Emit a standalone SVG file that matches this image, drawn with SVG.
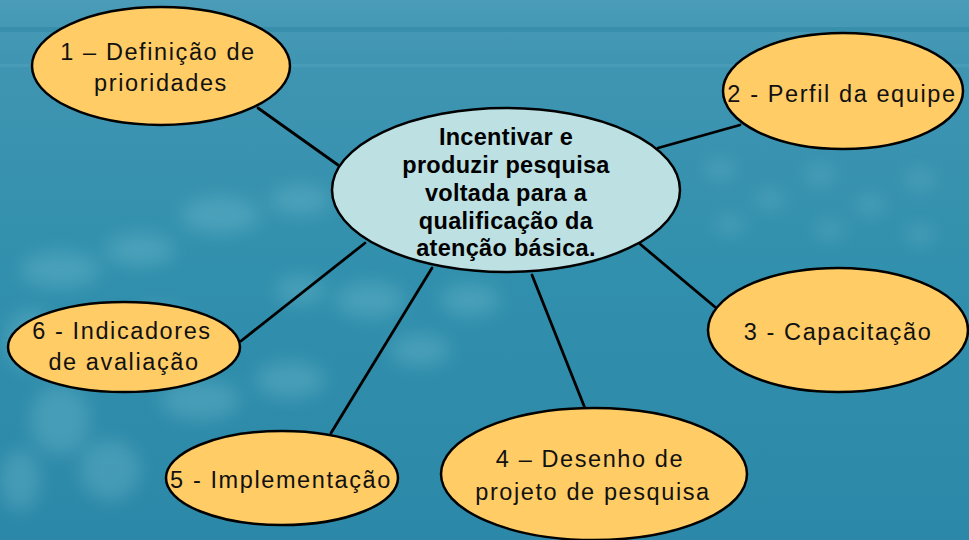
<svg xmlns="http://www.w3.org/2000/svg" width="969" height="540" viewBox="0 0 969 540">
<defs>
<linearGradient id="bg" x1="0" y1="0" x2="0" y2="1">
<stop offset="0" stop-color="#4a9cb8"/>
<stop offset="0.12" stop-color="#3f95b2"/>
<stop offset="0.5" stop-color="#3190ad"/>
<stop offset="1" stop-color="#2c88a8"/>
</linearGradient>
<filter id="blur" x="-30%" y="-30%" width="160%" height="160%"><feGaussianBlur stdDeviation="9"/></filter>
<style>
.bubble{fill:#ffcc66;stroke:#000;stroke-width:2.5}
.center{fill:#bde0e3;stroke:#000;stroke-width:2.5}
.lbl{font-family:"Liberation Sans",Arial,sans-serif;font-size:23.5px;letter-spacing:1.6px;fill:#111;text-anchor:middle}
.ctr{font-family:"Liberation Sans",Arial,sans-serif;font-size:23.5px;font-weight:bold;letter-spacing:0.3px;fill:#000;text-anchor:middle}
.conn line{stroke:#000;stroke-width:2.8;stroke-linecap:round}
</style>
</defs>
<g id="background">
<rect width="969" height="540" fill="url(#bg)"/>
<rect x="0" y="27" width="969" height="5" fill="#2f88a6" opacity="0.6"/>
<rect x="0" y="64" width="969" height="3" fill="#5aa8c0" opacity="0.35"/>
<g filter="url(#blur)" fill="#8fd0dd" opacity="0.25">
<ellipse cx="60" cy="270" rx="40" ry="18"/>
<ellipse cx="140" cy="250" rx="35" ry="16"/>
<ellipse cx="220" cy="215" rx="40" ry="18"/>
<ellipse cx="300" cy="200" rx="30" ry="14"/>
<ellipse cx="30" cy="340" rx="25" ry="30"/>
<ellipse cx="60" cy="420" rx="30" ry="35"/>
<ellipse cx="110" cy="470" rx="30" ry="30"/>
<ellipse cx="20" cy="480" rx="20" ry="30"/>
<ellipse cx="200" cy="400" rx="40" ry="20"/>
<ellipse cx="290" cy="380" rx="35" ry="18"/>
<ellipse cx="370" cy="300" rx="35" ry="18"/>
<ellipse cx="420" cy="350" rx="30" ry="16"/>
<ellipse cx="470" cy="300" rx="30" ry="16"/>
<ellipse cx="160" cy="320" rx="25" ry="14"/>
<ellipse cx="300" cy="290" rx="25" ry="14"/>
</g>
<g fill="#9fd8e4" opacity="0.22" filter="url(#blur)">
<ellipse cx="720" cy="170" rx="14" ry="8"/>
<ellipse cx="770" cy="200" rx="14" ry="8"/>
<ellipse cx="820" cy="175" rx="14" ry="8"/>
<ellipse cx="870" cy="205" rx="14" ry="8"/>
<ellipse cx="920" cy="180" rx="14" ry="8"/>
<ellipse cx="730" cy="225" rx="14" ry="8"/>
<ellipse cx="830" cy="230" rx="14" ry="8"/>
<ellipse cx="920" cy="235" rx="14" ry="8"/>
</g>
</g>
<g id="connectors" class="conn">
<line x1="258" y1="108" x2="338" y2="165"/>
<line x1="658" y1="148" x2="740" y2="125"/>
<line x1="640" y1="244" x2="715" y2="307"/>
<line x1="532" y1="275" x2="598" y2="441"/>
<line x1="432" y1="268" x2="331" y2="433"/>
<line x1="365" y1="243" x2="241" y2="341"/>
</g>
<g id="center">
<ellipse class="center" cx="506" cy="190" rx="174" ry="82"/>
<text class="ctr" x="506" y="145">Incentivar e</text>
<text class="ctr" x="506" y="173">produzir pesquisa</text>
<text class="ctr" x="506" y="201">voltada para a</text>
<text class="ctr" x="506" y="229">qualificação da</text>
<text class="ctr" x="506" y="256">atenção básica.</text>
</g>
<g id="node1">
<ellipse class="bubble" cx="161" cy="66" rx="129" ry="59"/>
<text class="lbl" x="158" y="60">1 – Definição de</text>
<text class="lbl" x="161" y="91">prioridades</text>
</g>
<g id="node2">
<ellipse class="bubble" cx="843" cy="91" rx="120" ry="58"/>
<text class="lbl" x="842" y="102">2 - Perfil da equipe</text>
</g>
<g id="node3">
<ellipse class="bubble" cx="838" cy="330" rx="130" ry="62"/>
<text class="lbl" x="838" y="340">3 - Capacitação</text>
</g>
<g id="node4">
<ellipse class="bubble" cx="594" cy="474" rx="153" ry="66"/>
<text class="lbl" x="590" y="467">4 – Desenho de</text>
<text class="lbl" x="593" y="500">projeto de pesquisa</text>
</g>
<g id="node5">
<ellipse class="bubble" cx="282" cy="478" rx="116" ry="47"/>
<text class="lbl" x="281" y="488">5 - Implementação</text>
</g>
<g id="node6">
<ellipse class="bubble" cx="124" cy="347" rx="116" ry="45"/>
<text class="lbl" x="122" y="339">6 - Indicadores</text>
<text class="lbl" x="124" y="370">de avaliação</text>
</g>
</svg>
